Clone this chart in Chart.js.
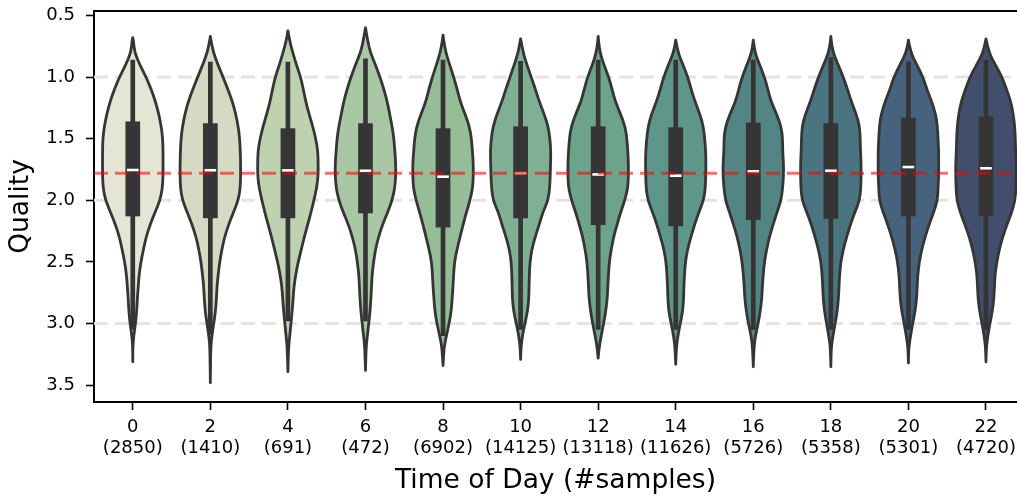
<!DOCTYPE html>
<html>
<head>
<meta charset="utf-8">
<script src="https://cdn.jsdelivr.net/npm/chart.js@4.4.1/dist/chart.umd.min.js"></script>
<style>
html,body{margin:0;padding:0;background:#fff;overflow:hidden}
#wrap{position:relative;width:1017px;height:499px}
</style>
</head>
<body>
<div id="wrap"><canvas id="c" width="1017" height="499"></canvas></div>
<script>
// ---------------- data ----------------
const hours = [0, 2, 4, 6, 8, 10, 12, 14, 16, 18, 20, 22];
const sampleCounts = [2850, 1410, 691, 472, 6902, 14125, 13118, 11626, 5726, 5358, 5301, 4720];
const qualityTicks = [0.5, 1.0, 1.5, 2.0, 2.5, 3.0, 3.5];
const referenceLines = [1.0, 2.0, 3.0];
const overallMean = 1.78;

// box statistics per hour
const whiskerTop    = [0.86, 0.876, 0.876, 0.85, 0.86, 0.87, 0.86, 0.86, 0.86, 0.84, 0.875, 0.86];
const q1            = [1.36, 1.375, 1.416, 1.375, 1.416, 1.40, 1.40, 1.408, 1.37, 1.375, 1.33, 1.32];
const medians       = [1.754, 1.756, 1.757, 1.76, 1.808, 1.78, 1.79, 1.80, 1.765, 1.76, 1.73, 1.74];
const q3            = [2.13, 2.145, 2.145, 2.105, 2.22, 2.145, 2.20, 2.21, 2.16, 2.15, 2.13, 2.126];
const whiskerBottom = [3.05, 3.09, 2.98, 2.98, 3.10, 3.05, 3.05, 3.05, 3.05, 3.05, 3.05, 3.05];

// violin extents (density tails) per hour
const tipTop    = [0.68, 0.67, 0.625, 0.60, 0.66, 0.69, 0.67, 0.70, 0.70, 0.67, 0.70, 0.69];
const tipBottom = [3.31, 3.48, 3.39, 3.38, 3.34, 3.29, 3.28, 3.33, 3.35, 3.35, 3.32, 3.31];

// relative density (violin half-width) at these quality levels
const qualityGrid = [0.7,0.8,0.9,1.0,1.1,1.2,1.3,1.4,1.5,1.6,1.7,1.8,1.9,2.0,2.1,2.2,2.3,2.4,2.5,2.6,2.7,2.8,2.9,3.0,3.1,3.2];
const density0  = [0.02,0.06,0.23,0.44,0.61,0.75,0.86,0.94,0.99,1.0,1.0,1.0,0.98,0.90,0.73,0.57,0.44,0.35,0.27,0.21,0.18,0.15,0.13,0.09,0.03,0.0];
const density2  = [0.02,0.10,0.25,0.42,0.58,0.73,0.84,0.92,0.97,0.99,1.0,1.0,0.99,0.92,0.76,0.60,0.47,0.38,0.31,0.26,0.22,0.20,0.17,0.11,0.05,0.01];
const density4  = [0.05,0.16,0.28,0.42,0.51,0.59,0.70,0.82,0.92,0.99,1.0,1.0,0.95,0.86,0.76,0.65,0.54,0.44,0.34,0.26,0.20,0.17,0.14,0.10,0.06,0.02];
const density6  = [0.07,0.16,0.33,0.48,0.61,0.72,0.80,0.88,0.94,0.97,1.0,1.0,0.97,0.88,0.73,0.56,0.43,0.33,0.27,0.22,0.20,0.18,0.15,0.11,0.06,0.02];
const density8  = [0.02,0.09,0.22,0.35,0.47,0.57,0.73,0.87,0.94,0.97,1.0,1.0,0.98,0.89,0.77,0.66,0.56,0.46,0.38,0.35,0.33,0.30,0.27,0.20,0.11,0.03];
const density10 = [0.0,0.08,0.21,0.35,0.49,0.62,0.78,0.91,0.97,1.0,0.99,0.98,0.96,0.91,0.73,0.61,0.48,0.37,0.31,0.29,0.28,0.27,0.23,0.14,0.06,0.01];
const density12 = [0.01,0.06,0.19,0.35,0.46,0.57,0.74,0.89,0.95,0.98,1.0,1.0,0.98,0.88,0.74,0.62,0.51,0.43,0.37,0.34,0.32,0.30,0.25,0.18,0.10,0.03];
const density14 = [0.0,0.07,0.24,0.40,0.51,0.64,0.80,0.91,0.96,0.99,1.0,0.99,0.98,0.92,0.76,0.62,0.50,0.39,0.32,0.29,0.27,0.26,0.23,0.15,0.07,0.02];
const density16 = [0.0,0.05,0.21,0.37,0.48,0.59,0.77,0.92,0.97,0.97,1.0,1.0,0.97,0.92,0.78,0.65,0.53,0.44,0.37,0.33,0.30,0.28,0.23,0.16,0.07,0.02];
const density18 = [0.01,0.07,0.24,0.41,0.55,0.68,0.84,0.95,0.97,0.98,1.0,1.0,0.99,0.95,0.79,0.64,0.52,0.41,0.33,0.29,0.27,0.25,0.21,0.14,0.07,0.01];
const density20 = [0.0,0.07,0.28,0.48,0.61,0.77,0.90,0.96,0.98,1.0,1.0,1.0,0.98,0.96,0.83,0.68,0.55,0.44,0.36,0.31,0.29,0.27,0.22,0.14,0.07,0.01];
const density22 = [0.0,0.09,0.31,0.53,0.68,0.82,0.90,0.95,0.97,0.98,1.0,1.0,0.99,0.96,0.85,0.69,0.55,0.44,0.36,0.30,0.28,0.26,0.21,0.13,0.06,0.01];
const densities = [density0,density2,density4,density6,density8,density10,density12,density14,density16,density18,density20,density22];

const violinColors = ['#e4e5d5','#d4dac3','#bed2b0','#a9c7a4','#95bd98','#80b093','#6ca38a','#5e9689','#528583','#4a7480','#46627c','#424f6c'];

// ---------------- styles ----------------
const violinHalfWidth = 0.39;
const boxHalfWidth = 0.095;
const medianHalfWidth = 0.075;
const inkColor = '#353535';
const xMax = 11.40;

Chart.defaults.font.family = 'DejaVu Sans';
Chart.defaults.color = '#000';

function curveThrough(ctx, pts, start) {
  if (start) ctx.moveTo(pts[0][0], pts[0][1]);
  for (let k = 1; k < pts.length - 1; k++) {
    const mx = (pts[k][0] + pts[k+1][0]) / 2, my = (pts[k][1] + pts[k+1][1]) / 2;
    ctx.quadraticCurveTo(pts[k][0], pts[k][1], mx, my);
  }
  ctx.lineTo(pts[pts.length-1][0], pts[pts.length-1][1]);
}

const violinPlugin = {
  id: 'violins',
  beforeDatasetsDraw(chart) {
    const {ctx, chartArea, scales: {x, y}} = chart;
    ctx.save();
    ctx.beginPath();
    ctx.rect(chartArea.left, chartArea.top, chartArea.right - chartArea.left, chartArea.bottom - chartArea.top);
    ctx.clip();
    // reference lines
    ctx.strokeStyle = '#e4e4e4';
    ctx.lineWidth = 3;
    ctx.setLineDash([14, 7]);
    referenceLines.forEach(v => {
      const py = y.getPixelForValue(v);
      ctx.beginPath(); ctx.moveTo(chartArea.left, py); ctx.lineTo(chartArea.right, py); ctx.stroke();
    });
    ctx.setLineDash([]);
    // violins
    hours.forEach((h, i) => {
      const prof = [[tipTop[i], 0]];
      qualityGrid.forEach((q, k) => { if (q > tipTop[i] + 0.01 && q < tipBottom[i] - 0.01) prof.push([q, densities[i][k]]); });
      prof.push([tipBottom[i], 0]);
      const right = prof.map(([q, w]) => [x.getPixelForValue(i + w * violinHalfWidth), y.getPixelForValue(q)]);
      const left = prof.slice().reverse().map(([q, w]) => [x.getPixelForValue(i - w * violinHalfWidth), y.getPixelForValue(q)]);
      ctx.beginPath();
      curveThrough(ctx, right, true);
      curveThrough(ctx, left, false);
      ctx.closePath();
      ctx.fillStyle = violinColors[i];
      ctx.fill();
      ctx.lineWidth = 2.8;
      ctx.lineJoin = 'round';
      ctx.strokeStyle = inkColor;
      ctx.stroke();

      // whisker
      const cx = x.getPixelForValue(i);
      ctx.beginPath();
      ctx.lineWidth = 4.7;
      ctx.lineCap = 'butt';
      ctx.moveTo(cx, y.getPixelForValue(whiskerTop[i]));
      ctx.lineTo(cx, y.getPixelForValue(whiskerBottom[i]));
      ctx.stroke();
      // box
      const bx0 = x.getPixelForValue(i - boxHalfWidth), bx1 = x.getPixelForValue(i + boxHalfWidth);
      const by0 = y.getPixelForValue(q1[i]), by1 = y.getPixelForValue(q3[i]);
      ctx.fillStyle = inkColor;
      ctx.fillRect(bx0, by0, bx1 - bx0, by1 - by0);
      // median
      ctx.beginPath();
      ctx.strokeStyle = '#ffffff';
      ctx.lineWidth = 2.6;
      const my = y.getPixelForValue(medians[i]);
      ctx.moveTo(x.getPixelForValue(i - medianHalfWidth), my);
      ctx.lineTo(x.getPixelForValue(i + medianHalfWidth), my);
      ctx.stroke();
    });
    ctx.restore();
  },
  afterDraw(chart) {
    const {ctx, chartArea} = chart;
    ctx.save();
    ctx.strokeStyle = '#000';
    ctx.lineWidth = 2;
    ctx.beginPath();
    ctx.moveTo(chartArea.left - 1, chartArea.top);
    ctx.lineTo(chartArea.right, chartArea.top);
    ctx.stroke();
    ctx.restore();
  }
};

new Chart(document.getElementById('c'), {
  type: 'line',
  data: {
    datasets: [{
      label: 'mean',
      data: [{x: -0.5, y: overallMean}, {x: xMax, y: overallMean}],
      borderColor: 'rgba(255,0,0,0.57)',
      borderWidth: 3,
      borderDash: [14, 7],
      pointRadius: 0,
      fill: false
    }]
  },
  options: {
    responsive: false,
    animation: false,
    layout: {padding: {top: 11, right: 0, bottom: 0, left: 0}},
    plugins: {legend: {display: false}, tooltip: {enabled: false}},
    scales: {
      x: {
        type: 'linear', min: -0.5, max: xMax,
        afterBuildTicks(s) { s.ticks = hours.map((h, i) => ({value: i})); },
        afterFit(s) { s.height = 97; s.paddingLeft = 0; s.paddingRight = 0; },
        ticks: {
          autoSkip: false, maxRotation: 0, padding: 7, color: '#000',
          font: {size: 18, lineHeight: 1.17},
          callback: (v) => [String(hours[v]), '(' + sampleCounts[v] + ')']
        },
        grid: {display: true, drawOnChartArea: false, drawTicks: true, tickLength: 8, tickWidth: 1.6, tickColor: '#000'},
        border: {display: true, color: '#000', width: 2},
        title: {display: true, text: 'Time of Day (#samples)', color: '#000', font: {size: 26.5, lineHeight: 1.2}, padding: {top: 0, bottom: 2}}
      },
      y: {
        type: 'linear', reverse: true, min: 0.464, max: 3.636,
        afterBuildTicks(s) { s.ticks = qualityTicks.map(v => ({value: v})); },
        afterFit(s) { s.width = 94; s.paddingTop = 0; s.paddingBottom = 0; },
        ticks: {padding: 11, color: '#000', font: {size: 18}, callback: (v) => Number(v).toFixed(1)},
        grid: {display: true, drawOnChartArea: false, drawTicks: true, tickLength: 8, tickWidth: 1.6, tickColor: '#000'},
        border: {display: true, color: '#000', width: 2},
        title: {display: true, text: 'Quality', color: '#000', font: {size: 26.5, lineHeight: 1.2}, padding: {top: 5, bottom: 0}}
      }
    }
  },
  plugins: [violinPlugin]
});
</script>
</body>
</html>
